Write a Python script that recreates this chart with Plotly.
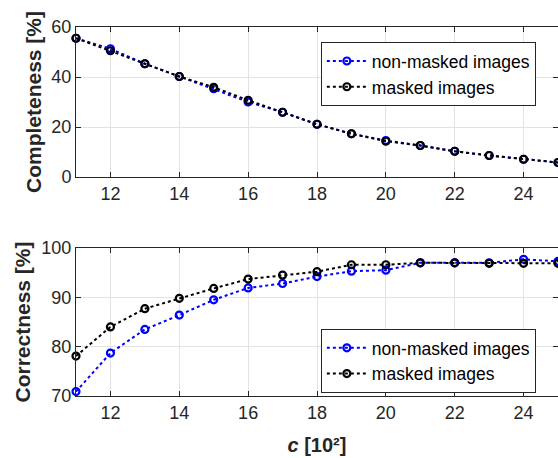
import plotly.graph_objects as go

c_vals = list(range(11, 26))
x_ticks = [12, 14, 16, 18, 20, 22, 24]

completeness_nonmasked = [55.5, 51.3, 45.3, 40.2, 35.3, 30.0, 25.9, 21.1, 17.3, 14.6, 12.6, 10.3, 8.6, 7.1, 5.8]
completeness_masked = [55.5, 50.5, 45.3, 40.2, 35.9, 30.7, 25.9, 21.1, 17.3, 14.3, 12.6, 10.3, 8.6, 7.1, 5.8]

correctness_nonmasked = [70.9, 78.7, 83.5, 86.4, 89.5, 91.9, 92.8, 94.2, 95.3, 95.5, 97.0, 97.0, 97.0, 97.7, 97.3]
correctness_masked = [78.1, 84.0, 87.7, 89.8, 91.8, 93.7, 94.5, 95.2, 96.6, 96.6, 97.0, 97.0, 96.9, 96.9, 96.9]

series_names = ["non-masked images", "masked images"]
series_colors = ["#0000ff", "#000000"]

FONT = "Liberation Sans, Arial, sans-serif"
AX = "#262626"

fig = go.Figure()

def add(x, y, name, color, xa, ya, legend):
    fig.add_trace(go.Scatter(
        x=x, y=y, name=name, mode="lines+markers",
        line=dict(color=color, width=2, dash="dot"),
        marker=dict(symbol="circle-open", size=7, color=color, line=dict(width=2.2, color=color)),
        xaxis=xa, yaxis=ya, legend=legend, cliponaxis=False,
    ))

add(c_vals, completeness_nonmasked, series_names[0], series_colors[0], "x", "y", "legend")
add(c_vals, completeness_masked, series_names[1], series_colors[1], "x", "y", "legend")
add(c_vals, correctness_nonmasked, series_names[0], series_colors[0], "x2", "y2", "legend2")
add(c_vals, correctness_masked, series_names[1], series_colors[1], "x2", "y2", "legend2")

axis_common = dict(
    showline=True, linecolor=AX, linewidth=1, mirror="ticks",
    ticks="inside", ticklen=5, tickcolor=AX, tickwidth=1,
    showgrid=True, gridcolor="#e3e3e3", gridwidth=1,
    zeroline=False, tickfont=dict(family=FONT, size=18, color=AX),
)

legend_common = dict(
    xanchor="left", yanchor="top", x=0.508,
    bgcolor="white", bordercolor=AX, borderwidth=1,
    font=dict(family=FONT, size=17.5, color="#000000"),
    tracegroupgap=0, itemwidth=40,
)

fig.update_layout(
    width=558, height=458,
    margin=dict(l=76, r=0, t=27, b=62),
    paper_bgcolor="white", plot_bgcolor="white",
    font=dict(family=FONT, color=AX),
    xaxis=dict(domain=[0, 1], range=[11, 25], tickvals=x_ticks, anchor="y", **axis_common),
    yaxis=dict(domain=[0.5935, 1], range=[0, 60], tickvals=[0, 20, 40, 60], anchor="x",
               title=dict(text="<b>Completeness [%]</b>", font=dict(family=FONT, size=21, color=AX), standoff=4),
               **axis_common),
    xaxis2=dict(domain=[0, 1], range=[11, 25], tickvals=x_ticks, anchor="y2",
                title=dict(text="<b><i>c</i> [10²]</b>", font=dict(family=FONT, size=20, color=AX), standoff=16),
                **axis_common),
    yaxis2=dict(domain=[0, 0.4011], range=[70, 100], tickvals=[70, 80, 90, 100], anchor="x2",
                title=dict(text="<b>Correctness [%]</b>", font=dict(family=FONT, size=21, color=AX), standoff=4),
                **axis_common),
    legend=dict(y=0.959, **legend_common),
    legend2=dict(y=0.1816, **legend_common),
    showlegend=True,
)

fig.write_html(
    "out.html",
    config={"displayModeBar": False},
    post_script="document.body.style.margin='0';document.body.style.overflow='hidden';",
)
